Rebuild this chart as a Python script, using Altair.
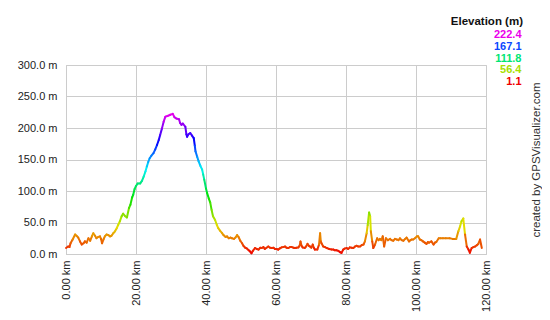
import altair as alt
import pandas as pd

km = [0, 0.6, 1.0, 1.3, 1.9, 2.6, 3.0, 3.5, 4.0, 4.5, 5.0, 5.4, 5.9, 6.4, 6.9, 7.4, 7.8, 8.3, 8.7, 9.2,
      9.7, 10.0, 10.3, 10.7, 11.1, 11.6, 12.1, 12.6, 13.0, 13.5, 14.0, 14.5, 14.9, 15.4, 15.9, 16.3, 16.9,
      17.4, 18.0, 18.4, 18.9, 19.2, 19.6, 20.0, 20.5, 21.2, 21.7, 22.2, 22.7, 23.1, 23.5, 23.9, 24.4, 25.0,
      25.5, 26.0, 26.5, 26.9, 27.4, 27.9, 28.4, 29.0, 29.8, 30.5, 31.0, 31.5, 32.3, 32.6, 33.0, 33.4, 34.1,
      34.4, 34.6, 35.0, 35.5, 36.0, 36.5, 36.8, 37.0, 37.5, 37.9, 38.4, 38.9, 39.2, 39.5, 40.0, 40.3, 40.8,
      41.2, 41.6, 42.0, 42.6, 43.1, 43.5, 44.0, 44.6, 45.0, 45.6, 46.0, 46.5, 47.0, 47.4, 48.0, 48.4, 48.9,
      49.3, 49.8, 50.3, 50.7, 51.2, 51.6, 52.2, 52.6, 53.0, 53.4, 54.0, 54.5, 55.0, 55.5, 55.9, 56.4, 56.8,
      57.3, 57.8, 58.3, 58.8, 59.3, 59.7, 60.2, 60.6, 61.1, 61.6, 62.1, 62.6, 63.0, 63.5, 64.0, 64.5, 65.0,
      65.4, 65.9, 66.4, 66.8, 67.0, 67.3, 67.6, 68.2, 68.6, 69.0, 69.4, 69.7, 70.1, 70.5, 70.8, 71.1, 71.8,
      72.3, 72.6, 72.8, 73.0, 73.5, 74.0, 74.5, 75.2, 75.9, 76.4, 76.8, 77.3, 77.8, 78.3, 78.7, 79.2, 79.6,
      80.2, 80.6, 81.1, 81.6, 82.1, 82.6, 83.0, 83.5, 84.0, 84.5, 85.0, 85.4, 85.9, 86.2, 86.6, 86.9, 87.1,
      87.5, 87.8, 88.3, 88.9, 89.3, 89.7, 90.1, 90.5, 90.9, 91.4, 92.0, 92.6, 93.0, 93.5, 94.0, 94.5, 95.0,
      95.4, 95.9, 96.4, 96.9, 97.3, 98.0, 98.4, 98.8, 99.2, 99.7, 100.3, 100.6, 101.1, 101.5, 102.0, 102.5,
      103.0, 103.4, 103.7, 104.4, 105.0, 105.4, 105.8, 106.5, 107.0, 107.7, 108.5, 109.6, 110.5, 111.5,
      112.1, 112.6, 113.0, 113.5, 114.0, 114.5, 115.0, 115.4, 115.9, 116.4, 116.9, 117.4, 117.8, 118.3, 118.8]

elev = [9.5, 12, 11, 17, 23, 31, 29, 26, 20, 15, 17, 20, 18, 25, 21, 28, 33, 29, 25, 27,
        28, 24, 17, 23, 28, 31, 30, 28, 29, 33, 36, 41, 46, 52, 60, 64, 60,
        58, 73, 78, 90, 94, 103, 108, 112, 112, 116, 123, 131, 139, 146, 152, 156, 160,
        166, 173, 181, 189, 199, 210, 218, 219, 221, 222.4, 217, 215, 214, 208, 205, 207, 202,
        190, 186, 190, 192, 188, 184, 172, 163, 154, 147, 140, 134, 126, 118, 104, 97, 88,
        82, 70, 60, 54, 46, 41, 37, 33, 30, 27, 28, 25, 26, 25, 24, 26, 30,
        27, 21, 17, 13, 10, 9, 6, 4, 1.1, 5, 9.5, 8, 7, 10, 9.5, 11, 8,
        10, 12, 10, 9.5, 10, 8, 8, 7, 9, 10.5, 11, 12, 10, 9.5, 11, 11, 10,
        9.5, 10, 10.5, 14, 20, 13, 10.5, 9.5, 12, 16, 13, 12, 10, 15, 10, 7, 7,
        15, 33, 20, 17, 12, 11, 9.5, 8, 7, 7, 6, 6, 5, 3, 1.6, 7, 8.5,
        9.5, 8, 10.5, 10, 9.5, 12, 13, 12, 12, 14, 15, 20, 33, 46, 66, 60, 36,
        20, 9.5, 15, 25, 22, 24, 22, 28, 12, 25, 22, 24, 22, 21, 24, 23, 22,
        25, 22, 21, 24, 26, 20, 22, 23, 23, 25, 28, 28, 23, 22, 20, 18,
        16, 19, 18, 20, 15, 18, 19, 25, 25, 25, 25, 25, 24, 24,
        36, 44, 52, 56.4, 31, 12, 7, 2, 9.5, 11, 12, 14, 16, 23, 9.5]

legend_values = [222.4, 167.1, 111.8, 56.4, 1.1]
color_stops = ["hsl(300,100%,46%)", "hsl(225,100%,52%)", "hsl(150,100%,45%)",
               "hsl(75,100%,44%)", "hsl(0,100%,47%)"]
y_ticks = [0, 50, 100, 150, 200, 250, 300]
x_ticks = [0, 20, 40, 60, 80, 100, 120]

df = pd.DataFrame({"km": km, "elev": elev})

color_scale = alt.Scale(domain=legend_values[::-1], range=color_stops[::-1], interpolate="hsl")

FONT = "Liberation Sans"

line = alt.Chart(df).transform_window(
    km2="lead(km)", elev2="lead(elev)", sort=[alt.SortField("km")]
).transform_filter("datum.km2 != null").transform_calculate(
    mid="(datum.elev + datum.elev2) / 2"
).mark_rule(strokeWidth=2, strokeCap="round").encode(
    x=alt.X("km:Q", scale=alt.Scale(domain=[0, 120], nice=False),
            axis=alt.Axis(values=x_ticks, labelExpr="format(datum.value, '.2f') + ' km'",
                          labelAngle=270, title=None, grid=True, ticks=False,
                          labelPadding=6, labelFontSize=11)),
    x2="km2:Q",
    y=alt.Y("elev:Q", scale=alt.Scale(domain=[0, 300], nice=False),
            axis=alt.Axis(values=y_ticks, labelExpr="format(datum.value, '.1f') + ' m'",
                          title=None, grid=True, ticks=False, labelPadding=9,
                          labelFontSize=11)),
    y2="elev2:Q",
    color=alt.Color("mid:Q", scale=color_scale, legend=None),
)

layers = [line]
layers.append(
    alt.Chart(pd.DataFrame({"t": ["Elevation (m)"]})).mark_text(
        font=FONT, fontSize=11.5, fontWeight="bold", align="right", baseline="alphabetic",
        color="#111"
    ).encode(x=alt.value(457), y=alt.value(-40), text="t:N")
)
legend_y = [-26.7, -15, -3.3, 8.3, 20]
for v, c, yy in zip(legend_values, color_stops, legend_y):
    layers.append(
        alt.Chart(pd.DataFrame({"t": [f"{v:.1f}"]})).mark_text(
            font=FONT, fontSize=11, fontWeight="bold", align="right", baseline="alphabetic",
            color=c
        ).encode(x=alt.value(455.5), y=alt.value(yy), text="t:N")
    )
layers.append(
    alt.Chart(pd.DataFrame({"t": ["created by GPSVisualizer.com"]})).mark_text(
        font=FONT, fontSize=11.5, angle=270, align="center", baseline="middle", color="#333"
    ).encode(x=alt.value(470.5), y=alt.value(95), text="t:N")
)

chart = alt.layer(*layers).properties(
    width=420, height=189,
    padding={"left": 58, "top": 57, "right": 56, "bottom": 58},
    autosize=alt.AutoSizeParams(type="none"),
).configure_view(stroke="#cccccc").configure_axis(
    gridColor="#cccccc", domainColor="#cccccc", labelFont=FONT, labelColor="#222222"
)

chart.save("out.html", embed_options={"renderer": "svg", "actions": False})
